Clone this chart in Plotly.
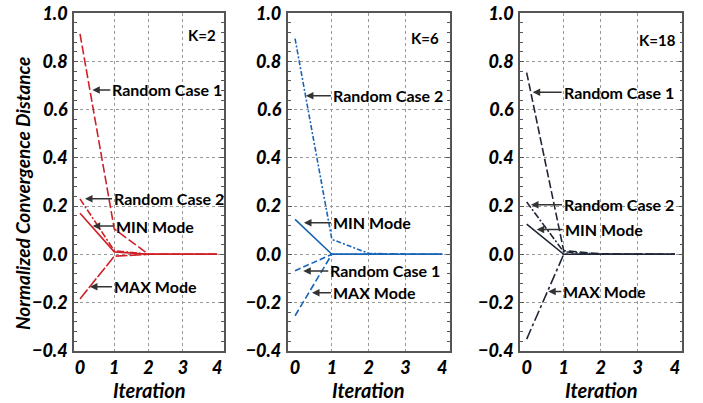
import plotly.graph_objects as go

# ---------------- data ----------------
iterations = [0, 1, 2, 3, 4]

k2_random1 = [0.915, 0.105, 0.0, 0.0, 0.0]
k2_random2 = [0.23, 0.015, 0.0, 0.0, 0.0]
k2_min = [0.17, 0.01, 0.0, 0.0, 0.0]
k2_max = [-0.185, -0.008, 0.0, 0.0, 0.0]

k6_random2 = [0.895, 0.062, 0.004, 0.0, 0.0]
k6_min = [0.145, 0.0, 0.0, 0.0, 0.0]
k6_random1 = [-0.068, 0.0, 0.0, 0.0, 0.0]
k6_max = [-0.255, 0.0, 0.0, 0.0, 0.0]

k18_random1 = [0.754, 0.015, 0.002, 0.0, 0.0]
k18_random2 = [0.217, 0.01, 0.0, 0.0, 0.0]
k18_min = [0.125, 0.0, 0.0, 0.0, 0.0]
k18_max = [-0.352, 0.0, 0.0, 0.0, 0.0]

panel_labels = ["K=2", "K=6", "K=18"]
y_ticks = [-0.4, -0.2, 0.0, 0.2, 0.4, 0.6, 0.8, 1.0]
x_ticks = [0, 1, 2, 3, 4]

# annotation labels: (text, head x, head y, pixel offset)
k2_notes = [("Random Case 1", 0.36, 0.682, 18), ("Random Case 2", 0.146, 0.231, 27),
            ("MIN Mode", 0.37, 0.117, 21), ("MAX Mode", 0.29, -0.135, 22)]
k6_notes = [("Random Case 2", 0.296, 0.658, 25), ("MIN Mode", 0.242, 0.131, 27),
            ("Random Case 1", 0.223, -0.069, 25), ("MAX Mode", 0.46, -0.16, 19)]
k18_notes = [("Random Case 1", 0.162, 0.672, 29), ("Random Case 2", 0.116, 0.206, 31),
             ("MIN Mode", 0.27, 0.103, 26), ("MAX Mode", 0.583, -0.154, 13)]

# ---------------- style ----------------
FONT = "Lato"
RED = "#cf2027"
BLUE = "#1764b8"
DARK = "#1f2736"

LONGDASH = "9px,3px"
DASHDOT = "7px,2px,2px,2px"
MEDDASH = "6px,3px"
LONGDASHDOT = "11px,3px,3px,3px"

panels = [
    dict(color=RED, series=[(k2_random1, LONGDASH), (k2_random2, DASHDOT),
                            (k2_min, "solid"), (k2_max, "12px,2px")],
         names=["Random Case 1", "Random Case 2", "MIN Mode", "MAX Mode"],
         notes=k2_notes, klabel=(4.02, 0.91), xdom=[74 / 703, 224 / 703], xr=[-0.175, 4.2]),
    dict(color=BLUE, series=[(k6_random2, "5px,2px,2px,2px"), (k6_min, "solid"),
                             (k6_random1, MEDDASH), (k6_max, "7px,3px")],
         names=["Random Case 2", "MIN Mode", "Random Case 1", "MAX Mode"],
         notes=k6_notes, klabel=(3.96, 0.898), xdom=[287.7 / 703, 450 / 703], xr=[-0.2, 4.21]),
    dict(color=DARK, series=[(k18_random1, "8px,3px"), (k18_random2, DASHDOT),
                             (k18_min, "solid"), (k18_max, LONGDASHDOT)],
         names=["Random Case 1", "Random Case 2", "MIN Mode", "MAX Mode"],
         notes=k18_notes, klabel=(4.09, 0.89), xdom=[520 / 703, 682.3 / 703], xr=[-0.18, 4.2]),
]

ydom = [1 - 350.7 / 403, 1 - 13.3 / 403]

fig = go.Figure()
annotations = []
layout = {}

for i, p in enumerate(panels):
    n = "" if i == 0 else str(i + 1)
    xa, ya = "x" + n, "y" + n
    for (vals, dash), name in zip(p["series"], p["names"]):
        fig.add_trace(go.Scatter(x=iterations, y=vals, mode="lines", name=name,
                                 line=dict(color=p["color"], width=1.6, dash=dash),
                                 xaxis=xa, yaxis=ya, showlegend=False))
    tickfont = dict(family=FONT, size=18, color="black", weight=900, style="italic")
    layout["xaxis" + n] = dict(
        domain=p["xdom"], range=p["xr"], anchor=ya,
        tickvals=x_ticks, ticktext=[str(v) for v in x_ticks],
        showgrid=False, zeroline=False,
        showline=True, linecolor="#555", linewidth=1.6, mirror=True,
        ticks="", tickfont=tickfont, ticklabelstandoff=0,
        minor=dict(tickvals=[1, 2, 3], showgrid=True, gridcolor="#9a9a9a",
                   griddash="dot", gridwidth=1, ticks=""),
    )
    layout["yaxis" + n] = dict(
        domain=ydom, range=[-0.4, 1.0], anchor=xa,
        tickvals=y_ticks, tickformat=".1f",
        showgrid=True, gridcolor="#9a9a9a", griddash="dot", gridwidth=1,
        zeroline=False,
        showline=True, linecolor="#555", linewidth=1.6, mirror="ticks",
        ticks="inside", ticklen=4, tickcolor="#555", tickwidth=1,
        minor=dict(dtick=0.04, ticks="inside", ticklen=3, tickcolor="#555",
                   tickwidth=1, showgrid=False),
        tickfont=tickfont, ticklabelstandoff=1,
    )
    for text, hx, hy, off in p["notes"]:
        annotations.append(dict(
            xref=xa, yref=ya, x=hx, y=hy, text=text, showarrow=True,
            axref="pixel", ayref="pixel", ax=off, ay=0,
            xanchor="left", yanchor="middle",
            arrowhead=2, arrowsize=1, arrowwidth=1.5, arrowcolor="#333",
            font=dict(family=FONT, size=16, color="black", weight="bold"),
        ))
    annotations.append(dict(
        xref=xa, yref=ya, x=p["klabel"][0], y=p["klabel"][1], text=panel_labels[i],
        showarrow=False, xanchor="right", yanchor="middle",
        font=dict(family=FONT, size=15, color="black", weight="bold"),
    ))
    annotations.append(dict(
        xref="paper", yref="paper", x=sum(p["xdom"]) / 2, y=1 - 390 / 403,
        text="Iteration", showarrow=False, xanchor="center", yanchor="middle",
        font=dict(family=FONT, size=20, color="black", weight="bold", style="italic"),
    ))

annotations.append(dict(
    xref="paper", yref="paper", x=22 / 703, y=1 - 194 / 403,
    text="Normalized Convergence Distance", showarrow=False, textangle=-90,
    xanchor="center", yanchor="middle",
    font=dict(family=FONT, size=19, color="black", weight="bold", style="italic"),
))

fig.update_layout(
    width=703, height=403,
    margin=dict(l=0, r=0, t=0, b=0, autoexpand=False),
    paper_bgcolor="white", plot_bgcolor="white",
    annotations=annotations,
    **layout,
)

fig.write_html("out.html", config={"displayModeBar": False},
               post_script="document.body.style.margin='0';")
